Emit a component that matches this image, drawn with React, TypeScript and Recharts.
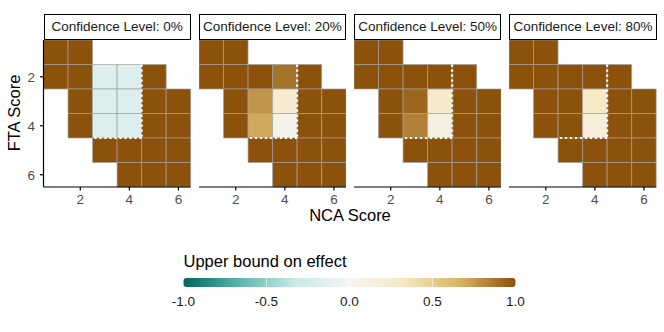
import React from "react";
import { ComposedChart, XAxis, YAxis, ReferenceArea, ReferenceLine } from "recharts";

const facetLabels = [
  "Confidence Level: 0%",
  "Confidence Level: 20%",
  "Confidence Level: 50%",
  "Confidence Level: 80%",
];

const cellNCA = [1, 2, 1, 2, 3, 4, 5, 2, 3, 4, 5, 6, 2, 3, 4, 5, 6, 3, 4, 5, 6, 4, 5, 6];
const cellFTA = [1, 1, 2, 2, 2, 2, 2, 3, 3, 3, 3, 3, 4, 4, 4, 4, 4, 5, 5, 5, 5, 6, 6, 6];

const effect0 = [1, 1, 1, 1, -0.18, -0.18, 1, 1, -0.18, -0.18, 1, 1, 1, -0.18, -0.18, 1, 1, 1, 1, 1, 1, 1, 1, 1];
const effect20 = [1, 1, 1, 1, 1, 0.88, 1, 1, 0.77, 0.25, 1, 1, 1, 0.7, 0.08, 1, 1, 1, 1, 1, 1, 1, 1, 1];
const effect50 = [1, 1, 1, 1, 1, 1, 1, 1, 0.93, 0.28, 1, 1, 1, 0.84, 0.14, 1, 1, 1, 1, 1, 1, 1, 1, 1];
const effect80 = [1, 1, 1, 1, 1, 1, 1, 1, 1, 0.32, 1, 1, 1, 1, 0.18, 1, 1, 1, 1, 1, 1, 1, 1, 1];
const facetEffects = [effect0, effect20, effect50, effect80];

// dotted boundary path (NCA, FTA)
const boundaryNCA = [4.5, 4.5, 2.5];
const boundaryFTA = [1.5, 4.5, 4.5];

const axisTicks = [2, 4, 6];
const legendTicks = [-1, -0.5, 0, 0.5, 1];
const legendTickLabels = ["-1.0", "-0.5", "0.0", "0.5", "1.0"];
const paletteStops = [-1, -2 / 3, -1 / 3, 0, 1 / 3, 2 / 3, 1];
const paletteColors = ["#01665e", "#5ab4ac", "#c7eae5", "#f5f5f5", "#f6e8c3", "#d8b365", "#8c510a"];

const FONT = "'Liberation Sans', Arial, Helvetica, sans-serif";

function hexToRgb(h: string) {
  return [parseInt(h.slice(1, 3), 16), parseInt(h.slice(3, 5), 16), parseInt(h.slice(5, 7), 16)];
}
function colorFor(v: number) {
  const c = Math.max(-1, Math.min(1, v));
  for (let i = 0; i < paletteStops.length - 1; i++) {
    if (c <= paletteStops[i + 1] + 1e-9) {
      const t = (c - paletteStops[i]) / (paletteStops[i + 1] - paletteStops[i]);
      const a = hexToRgb(paletteColors[i]);
      const b = hexToRgb(paletteColors[i + 1]);
      const r = a.map((x, k) => Math.round(x + (b[k] - x) * t));
      return `rgb(${r[0]},${r[1]},${r[2]})`;
    }
  }
  return paletteColors[paletteColors.length - 1];
}

const panelLeft = [43.5, 198.8, 354.1, 509.4];
const panelW = 147.2;
const panelTop = 39.5;
const panelH = 147;
const yAxisW = 43.5;
const xAxisH = 30;

function Facet({ idx }: { idx: number }) {
  const hasY = idx === 0;
  const w = panelW + (hasY ? yAxisW : 0);
  const left = panelLeft[idx] - (hasY ? yAxisW : 0);
  const vals = facetEffects[idx];
  return (
    <div style={{ position: "absolute", left, top: panelTop, width: w, height: panelH + xAxisH }}>
      <ComposedChart width={w} height={panelH + xAxisH} margin={{ top: 0, right: 0, bottom: 0, left: 0 }} data={[]}>
        <XAxis
          type="number"
          dataKey="x"
          domain={[0.5, 6.5]}
          ticks={axisTicks}
          allowDataOverflow
          height={xAxisH}
          tickSize={3.5}
          tickMargin={4}
          axisLine={{ stroke: "#000", strokeWidth: 1.2 }}
          tickLine={{ stroke: "#000", strokeWidth: 1.2 }}
          tick={{ fill: "#4d4d4d", fontSize: 13.5, fontFamily: FONT }}
        />
        <YAxis
          type="number"
          dataKey="y"
          domain={[0.5, 6.5]}
          ticks={axisTicks}
          reversed
          allowDataOverflow
          hide={!hasY}
          width={yAxisW}
          tickSize={3.5}
          tickMargin={5}
          axisLine={{ stroke: "#000", strokeWidth: 1.2 }}
          tickLine={{ stroke: "#000", strokeWidth: 1.2 }}
          tick={{ fill: "#4d4d4d", fontSize: 13.5, fontFamily: FONT }}
        />
        {vals.map((v, i) => (
          <ReferenceArea
            key={i}
            x1={cellNCA[i] - 0.5}
            x2={cellNCA[i] + 0.5}
            y1={cellFTA[i] - 0.5}
            y2={cellFTA[i] + 0.5}
            fill={colorFor(v)}
            fillOpacity={1}
            stroke="#a0a0a0"
            strokeOpacity={0.85}
            strokeWidth={0.8}
            ifOverflow="visible"
          />
        ))}
        {boundaryNCA.slice(0, -1).map((_, i) => (
          <ReferenceLine
            key={"b" + i}
            segment={[
              { x: boundaryNCA[i], y: boundaryFTA[i] },
              { x: boundaryNCA[i + 1], y: boundaryFTA[i + 1] },
            ]}
            stroke="#ffffff"
            strokeWidth={2.2}
            strokeDasharray="2.2 2.8"
            ifOverflow="visible"
          />
        ))}
      </ComposedChart>
    </div>
  );
}

function Strip({ idx }: { idx: number }) {
  return (
    <div
      style={{
        position: "absolute",
        left: panelLeft[idx],
        top: 13.5,
        width: panelW,
        height: 26,
        boxSizing: "border-box",
        border: "1.6px solid #000",
        background: "#fff",
        fontFamily: FONT,
        fontSize: 13.5,
        color: "#1a1a1a",
        display: "flex",
        alignItems: "center",
        justifyContent: "center",
        whiteSpace: "nowrap",
      }}
    >
      {facetLabels[idx]}
    </div>
  );
}

const barX0 = 183.5;
const barX1 = 515.5;
const barY = 278;
const barH = 9;

function Legend() {
  const scale = (v: number) => barX0 + ((v + 1) / 2) * (barX1 - barX0);
  return (
    <svg width={664} height={332} style={{ position: "absolute", left: 0, top: 0 }}>
      <defs>
        <linearGradient id="brbg" x1="0" x2="1" y1="0" y2="0">
          {paletteStops.map((s, i) => (
            <stop key={i} offset={(s + 1) / 2} stopColor={paletteColors[i]} />
          ))}
        </linearGradient>
      </defs>
      <text x={14} y={113} transform="rotate(-90 14 113)" textAnchor="middle" dominantBaseline="central" fontFamily={FONT} fontSize={16.5} fill="#000">
        FTA Score
      </text>
      <text x={350} y={215} textAnchor="middle" dominantBaseline="central" fontFamily={FONT} fontSize={16.5} fill="#000">
        NCA Score
      </text>
      <text x={183.5} y={266.5} fontFamily={FONT} fontSize={16.5} fill="#000">
        Upper bound on effect
      </text>
      <rect x={barX0} y={barY} width={barX1 - barX0} height={barH} rx={3} fill="url(#brbg)" />
      {legendTicks.slice(1, -1).map((t, i) => (
        <line key={i} x1={scale(t)} x2={scale(t)} y1={barY} y2={barY + barH} stroke="#fff" strokeOpacity={0.6} strokeWidth={1} />
      ))}
      {legendTicks.map((t, i) => (
        <text key={"l" + i} x={scale(t)} y={301.5} textAnchor="middle" dominantBaseline="central" fontFamily={FONT} fontSize={13.5} fill="#1a1a1a">
          {legendTickLabels[i]}
        </text>
      ))}
    </svg>
  );
}

export default function App() {
  return (
    <div style={{ position: "absolute", left: 0, top: 0, width: 664, height: 332, background: "#fff", overflow: "hidden" }}>
      <Legend />
      {facetLabels.map((_, i) => (
        <Strip key={"s" + i} idx={i} />
      ))}
      {facetLabels.map((_, i) => (
        <Facet key={"f" + i} idx={i} />
      ))}
    </div>
  );
}
